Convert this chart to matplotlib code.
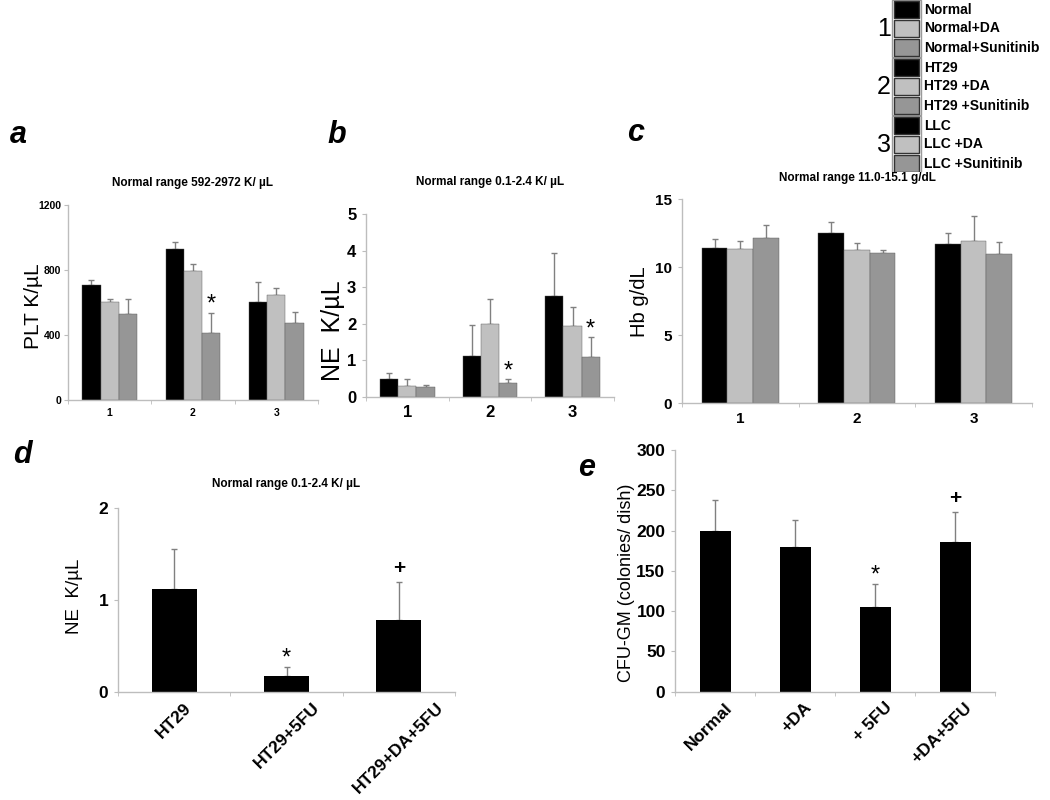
import numpy as np
import matplotlib
matplotlib.use("Agg")
import matplotlib.pyplot as plt
from matplotlib.patches import Rectangle
from matplotlib.transforms import ScaledTranslation

plt.rcParams['font.family'] = ['Liberation Sans', 'DejaVu Sans']

# ---- data ----
groups = ["1", "2", "3"]
series_colors = ["#000000", "#c0c0c0", "#969696"]

plt_vals = [[708, 599, 527], [928, 796, 409], [601, 644, 475]]
plt_err = [[27, 22, 95], [43, 39, 124], [127, 47, 64]]
plt_star = [(1, 2)]

ne_vals = [[0.50, 0.30, 0.26], [1.11, 1.99, 0.37], [2.77, 1.95, 1.09]]
ne_err = [[0.14, 0.18, 0.07], [0.87, 0.69, 0.11], [1.18, 0.52, 0.54]]
ne_star = [(1, 2), (2, 2)]

hb_vals = [[11.42, 11.32, 12.16], [12.50, 11.25, 11.03], [11.69, 11.91, 10.98]]
hb_err = [[0.66, 0.60, 0.98], [0.81, 0.56, 0.24], [0.81, 1.84, 0.86]]

d_labels = ["HT29", "HT29+5FU", "HT29+DA+5FU"]
d_vals = [1.12, 0.175, 0.785]
d_err = [0.44, 0.10, 0.415]
d_marks = ["", "*", "+"]

e_labels = ["Normal", "+DA", "+ 5FU", "+DA+5FU"]
e_vals = [199, 180, 105, 186]
e_err = [39, 33, 29, 37]
e_marks = ["", "", "*", "+"]

legend_groups = ["1", "2", "3"]
legend_labels = [["Normal", "Normal+DA", "Normal+Sunitinib"],
                 ["HT29", "HT29 +DA", "HT29 +Sunitinib"],
                 ["LLC", "LLC +DA", "LLC +Sunitinib"]]

AX_GRAY = "#bdbdbd"
ERR_GRAY = "#808080"


def style_axis(ax, tick_fs, pad=4):
    for s in ["top", "right"]:
        ax.spines[s].set_visible(False)
    for s in ["left", "bottom"]:
        ax.spines[s].set_color(AX_GRAY)
        ax.spines[s].set_linewidth(1.0)
    ax.tick_params(axis="y", colors=AX_GRAY, length=3, labelsize=tick_fs,
                   labelcolor="black", pad=pad)
    ax.tick_params(axis="x", which="major", length=0, labelsize=tick_fs,
                   labelcolor="black", pad=6)
    ax.tick_params(axis="x", which="minor", colors=AX_GRAY, length=3)
    for lab in ax.get_yticklabels() + ax.get_xticklabels():
        lab.set_fontweight("bold")


def grouped(ax, vals, errs, ylim, yticks, ylabel, ylabel_fs, ylabel_xy,
            tick_fs, title, title_pad, stars=(), pad=4):
    vals = np.array(vals)
    errs = np.array(errs)
    x = np.arange(1, len(groups) + 1)
    w = 0.22
    for j in range(vals.shape[1]):
        xs = x + (j - 1) * w
        ax.bar(xs, vals[:, j], width=w, color=series_colors[j],
               edgecolor="#555555", linewidth=0.3, zorder=2)
        ax.errorbar(xs, vals[:, j], yerr=[np.zeros(len(x)), errs[:, j]],
                    fmt="none", ecolor=ERR_GRAY, elinewidth=1.0,
                    capsize=2, capthick=1.0, zorder=1)
    for (g, s) in stars:
        ax.annotate("*", (x[g] + (s - 1) * w, vals[g, s] + errs[g, s]),
                    xytext=(0, -2), textcoords="offset points",
                    ha="center", va="bottom", fontsize=17)
    ax.set_xlim(0.5, len(groups) + 0.5)
    ax.set_ylim(*ylim)
    ax.set_yticks(yticks)
    ax.set_xticks(x)
    ax.set_xticklabels(groups)
    ax.set_xticks(np.arange(0.5, len(groups) + 1), minor=True)
    ax.set_ylabel(ylabel, fontsize=ylabel_fs)
    ax.yaxis.set_label_coords(*ylabel_xy)
    ax.set_title(title, fontsize=8.5, fontweight="bold", pad=title_pad)
    style_axis(ax, tick_fs, pad)


def single(ax, labels, vals, errs, marks, ylim, yticks, ylabel, ylabel_fs,
           ylabel_xy, xlim, width, label_ha):
    x = np.arange(len(labels))
    ax.bar(x, vals, width=width, color="black", zorder=2)
    ax.errorbar(x, vals, yerr=[np.zeros(len(x)), errs], fmt="none",
                ecolor=ERR_GRAY, elinewidth=1.0, capsize=2, capthick=1.0,
                zorder=1)
    for xi, v, e, m in zip(x, vals, errs, marks):
        if m == "*":
            ax.annotate(m, (xi, v + e), xytext=(0, -2),
                        textcoords="offset points", ha="center",
                        va="bottom", fontsize=17)
        elif m:
            ax.annotate(m, (xi, v + e), xytext=(0, 3),
                        textcoords="offset points", ha="center",
                        va="bottom", fontsize=15, fontweight="bold")
    ax.set_xlim(*xlim)
    ax.set_ylim(*ylim)
    ax.set_yticks(yticks)
    ax.set_xticks(x)
    if label_ha == "center":
        ax.set_xticklabels(labels, rotation=45, ha="center", va="top")
    else:
        ax.set_xticklabels(labels, rotation=45, ha="right",
                           rotation_mode="anchor")
    ax.set_xticks(np.arange(-0.5, len(labels)), minor=True)
    ax.set_ylabel(ylabel, fontsize=ylabel_fs)
    ax.yaxis.set_label_coords(*ylabel_xy)
    style_axis(ax, 12.5)


fig = plt.figure(figsize=(10.5, 8), dpi=100)

ax_a = fig.add_axes([0.0648, 0.5004, 0.238, 0.2434])
grouped(ax_a, plt_vals, plt_err, (0, 1200), [0, 400, 800, 1200],
        "PLT K/\u00b5L", 15, (-0.1, 0.48), 7.5,
        "Normal range 592-2972 K/ \u00b5L", 14, plt_star, pad=2)

ax_b = fig.add_axes([0.3486, 0.504, 0.236, 0.228])
grouped(ax_b, ne_vals, ne_err, (0, 5), [0, 1, 2, 3, 4, 5],
        "NE  K/\u00b5L", 18, (-0.085, 0.36), 12,
        "Normal range 0.1-2.4 K/ \u00b5L", 21, ne_star)

ax_c = fig.add_axes([0.6495, 0.4958, 0.3333, 0.255])
grouped(ax_c, hb_vals, hb_err, (0, 15), [0, 5, 10, 15],
        "Hb g/dL", 14.5, (-0.095, 0.5), 11,
        "Normal range 11.0-15.1 g/dL", 13)

ax_d = fig.add_axes([0.1124, 0.135, 0.321, 0.2296])
single(ax_d, d_labels, d_vals, d_err, d_marks, (0, 2), [0, 1, 2],
       "NE  K/\u00b5L", 13.5, (-0.105, 0.52), (-0.5, 2.5), 0.4, "center")
ax_d.set_title("Normal range 0.1-2.4 K/ \u00b5L", fontsize=8.5,
               fontweight="bold", pad=15)

ax_e = fig.add_axes([0.643, 0.1354, 0.3048, 0.3021])
single(ax_e, e_labels, e_vals, e_err, e_marks, (0, 300),
       [0, 50, 100, 150, 200, 250, 300],
       "CFU-GM (colonies/ dish)", 13, (-0.125, 0.45), (-0.5, 3.25), 0.39,
       "right")
shift = ScaledTranslation(9 / 100, 0, fig.dpi_scale_trans)
for lab in ax_e.get_xticklabels():
    lab.set_transform(lab.get_transform() + shift)

# panel letters
for letter, (px, py) in zip("abcde", [(10, 135), (327, 135), (627, 133),
                                      (13, 455), (578, 468)]):
    fig.text(px / 1050, 1 - py / 800, letter, fontsize=22,
             fontweight="bold", fontstyle="italic", va="center")

# legend block, drawn in pixel coordinates
lg = fig.add_axes([880 / 1050, 1 - 172 / 800, 170 / 1050, 172 / 800])
lg.set_xlim(880, 1050)
lg.set_ylim(172, 0)
lg.axis("off")
row_h = 19
for gi, (num, labs) in enumerate(zip(legend_groups, legend_labels)):
    top = gi * 58
    lg.add_patch(Rectangle((892, top), 29, 3 * row_h, fill=False,
                           edgecolor="#9a9a9a", lw=1.0))
    lg.text(884, top + 1.5 * row_h, num, fontsize=18, ha="center",
            va="center")
    for j, lab in enumerate(labs):
        y0 = top + j * row_h
        lg.add_patch(Rectangle((894, y0 + 1), 25, row_h - 2,
                               facecolor=series_colors[j],
                               edgecolor="#333333", lw=1.0))
        lg.text(924, y0 + row_h / 2, lab, fontsize=10, fontweight="bold",
                va="center", ha="left")

fig.savefig("out.png", dpi=100)
